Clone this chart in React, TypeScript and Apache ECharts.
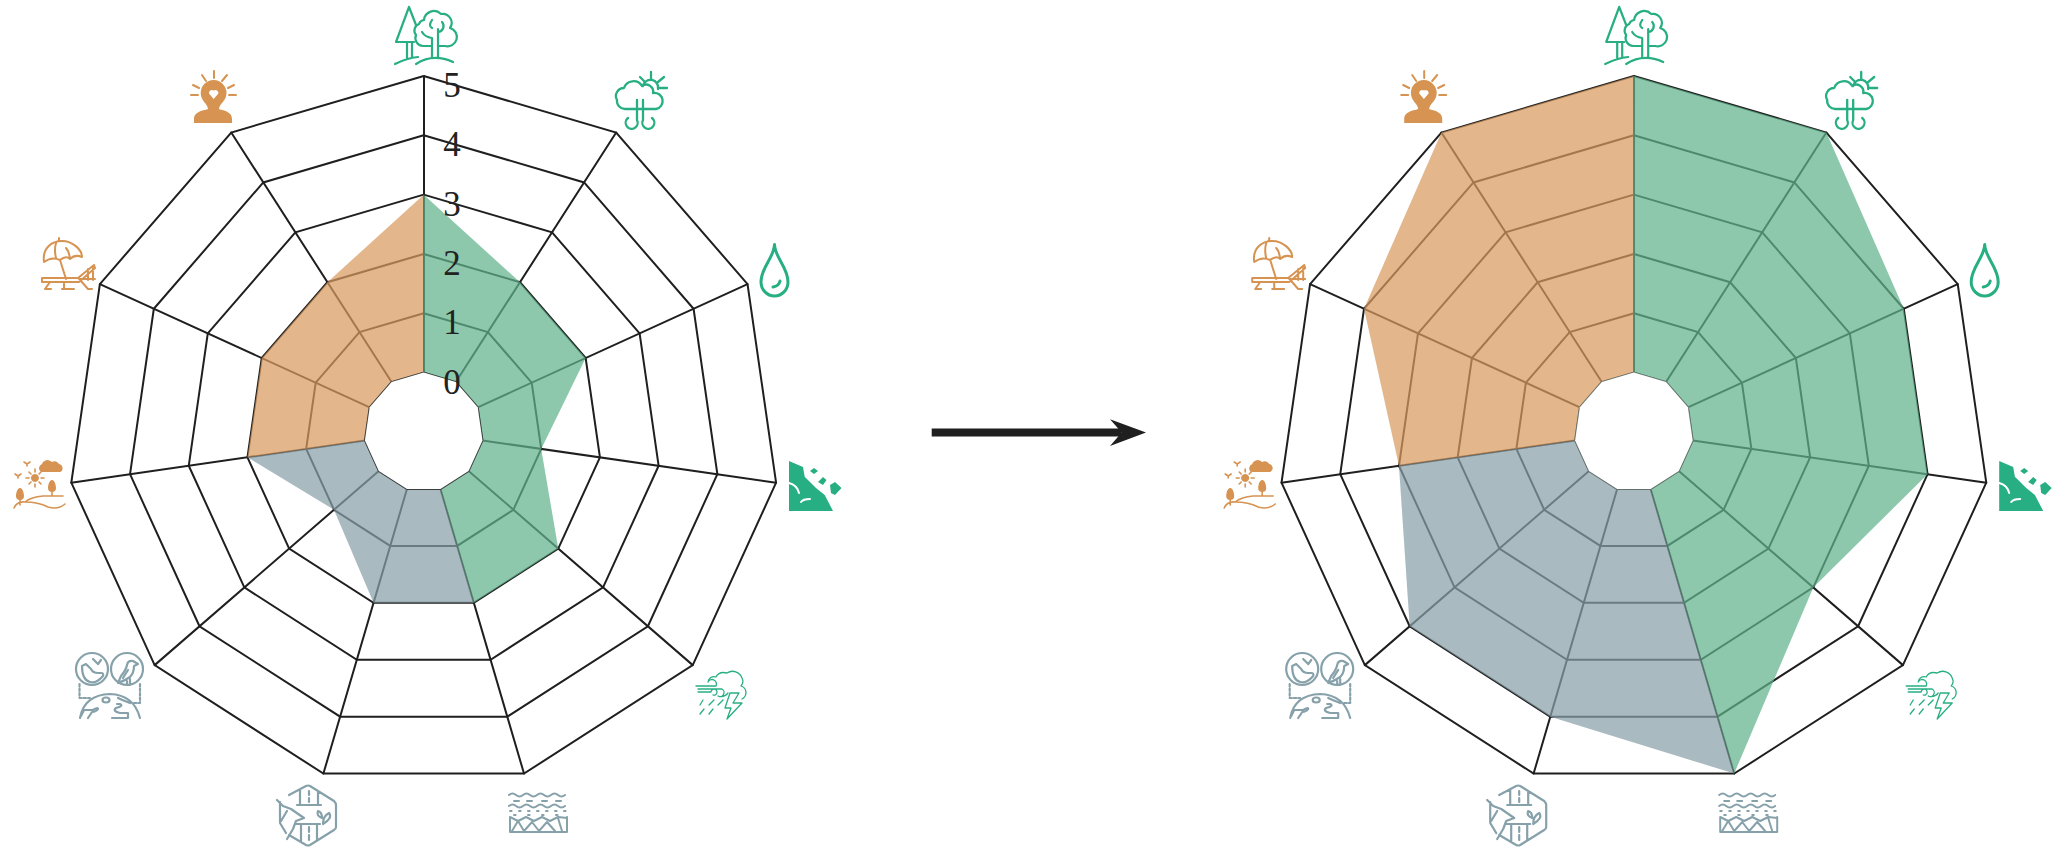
import React, { useEffect, useRef } from "react";
import * as echarts from "echarts";

const categories = ["Forest", "Climate", "Water", "Landslide", "Storm", "Soil", "Habitat", "Species", "Landscape", "Recreation", "Wellbeing"];
const tickMax = 5;
const beforeValues = [3, 2, 2, 1, 2, 2, 2, 1, 2, 2, 2];
const afterValues = [5, 5, 4, 4, 3, 5, 4, 4, 3, 4, 5];
const holeValues = [0, 0, 0, 0, 0, 0, 0, 0, 0, 0, 0];
const greenAxes = [0, 1, 2, 3, 4, 5];
const grayAxes = [5, 6, 7, 8];
const orangeAxes = [8, 9, 10, 0];

const GREEN = "#27ae82";
const ORANGE = "#d69352";
const GRAY = "#87a1aa";
const INK = "#1f1f1f";
const R0 = 59.4;
const R1 = 356;
const CY = 432;
const CX_LEFT = 423.7;
const CX_RIGHT = 1633.9;
const CENTER_VALUE = -R0 / ((R1 - R0) / tickMax);

// ECharts lays radar indicators out counter-clockwise; the chart reads clockwise.
function clockwise<T>(list: T[]): T[] {
  return [list[0], ...list.slice(1).reverse()];
}

function sector(values: number[], axes: number[]) {
  return clockwise(values.map((v, i) => (axes.includes(i) ? v : CENTER_VALUE)));
}

function wave(y: number) {
  let d = `M0 ${y}`;
  for (let x = 0; x < 56; x += 14) d += ` Q${x + 3.5} ${y - 3} ${x + 7} ${y} Q${x + 10.5} ${y + 3} ${x + 14} ${y}`;
  return d;
}
function dots(y: number, start: number, gap: number) {
  let d = "";
  for (let x = start; x < 58; x += gap) d += `M${x} ${y}h1.6 `;
  return d;
}

type Layer = { d: string; mode: "s" | "f" | "w"; lw?: number; dash?: number[] };
type Icon = { name: string; x: number; y: number; color: string; layers: Layer[] };

const icons: Icon[] = [
  {
    name: "tree", x: 395, y: 6, color: GREEN,
    layers: [{
      mode: "s", lw: 2.2,
      d: "M14 1 L1 36 H19 M14 1 L21 19 M12 36 V52 M17 36 V51 M29 14 A10 10 0 0 1 46 8 A9 9 0 0 1 55 22 A9 9 0 0 1 50 40 H43 M37 40 H28 A8 8 0 0 1 21 29 A7 7 0 0 1 24 18 A6 6 0 0 1 29 14 M37 32 V52 M43 23 V51 M43 26 A6 6 0 0 0 47 16 M37 32 Q30 31 27 26 M37 14 Q33 20 37 22 M0 58 Q12 52 23 51 M21 58 Q38 47 58 56",
    }],
  },
  {
    name: "cloud", x: 616, y: 72, color: GREEN,
    layers: [{
      mode: "s", lw: 2.3,
      d: "M13 37 H9 A8 8 0 0 1 1 28 A8 8 0 0 1 8 16 A10 10 0 0 1 26 14 A7 7 0 0 1 37 21 A8 8 0 0 1 40 37 H9 M27 14 A7 7 0 0 1 42 17 M35 0 V8 M24 5 L29 10 M48 5 L42 10 M44 16 H51 M21 28 V48 A6 6 0 1 1 12 46 M27 28 V48 A6 6 0 1 0 36 46",
    }],
  },
  {
    name: "drop", x: 759, y: 243, color: GREEN,
    layers: [{ mode: "s", lw: 3, d: "M15.5 1.5 C15 15 2 24 2 39 A13.5 14 0 0 0 29 39 C29 24 16 15 15.5 1.5 Z M14 44 Q20 43 21 38" }],
  },
  {
    name: "slide", x: 789, y: 461, color: GREEN,
    layers: [
      { mode: "f", d: "M0 0 L14 6 L15.7 15.7 L27 27 L35.7 34 L44 50 H0 Z M21 10 L25 7 L29 10 L25 13 Z M29 21 L34 16 L37.5 19 L34 24 Z M41 24 L46 21 L52.5 27 L46 34 L42 32 Z" },
      { mode: "w", lw: 2, d: "M0 22 Q8 24 10 32 M12 41 Q14 38 21 38" },
    ],
  },
  {
    name: "storm", x: 680, y: 655, color: GREEN,
    layers: [{
      mode: "s", lw: 1.3,
      d: "M28 27 A6 6 0 0 1 36 22 Q39 16 47 18 A10 10 0 0 1 62 23 A7 7 0 0 1 61 31 A7 7 0 0 1 62 44 M16 31 H36 A3.5 3.5 0 1 0 28 27 M18 34 H42 A3.5 3.5 0 0 1 38 41 Q44 43 48 38 M18 37 H31 A3 3 0 1 1 33 40 M50 38 H59 L53 48 H62 L47 64 L51 53 H45 Z M23 45 L20 50 M34 45 L29 50 M43 45 L38 50 M24 54 L20 59 M33 54 L29 59",
    }],
  },
  {
    name: "soil", x: 509, y: 792, color: GRAY,
    layers: [{
      mode: "s", lw: 2,
      d: `${wave(3)} M5 9H10 M18 9H23 M33 9H38 M47 9H52 ${wave(14)} ${dots(19, 1, 9)} ${dots(23, 5, 14)} M1 25 V40 H58 V25 M1 25 L9 29 L17 25 L25 29 L33 25 L41 29 L49 25 L58 26 M3 39 L9 29 L15 39 L23 30 L30 39 L38 30 L46 39 M49 26 L53 39`,
    }],
  },
  {
    name: "hex", x: 277, y: 785, color: GRAY,
    layers: [{
      mode: "s", lw: 2.2,
      d: "M12 10 L29 1 Q31 0 33 1 L57 16 Q59 18 59 20 V42 Q59 44 57 45 L33 60 Q31 61 29 60 L12 50 M23 5 V20 M41 7 V20 M20 20 H44 M32 6 V10 M32 13 V17 M18 39 H43 M24 39 V56 M40 39 V55 M32 42 V47 M32 50 V55 M0 15 L6 21 L14 24 L27 33 L19 36 L16 44 L10 54 M3 17 V38 L9 48 M4 36 L10 26 M45 33 Q45 27 41 26 Q39 31 45 33 Z M46 39 Q46 31 52 28 Q56 33 46 39",
    }],
  },
  {
    name: "birds", x: 60, y: 640, color: GRAY,
    layers: [
      { mode: "s", lw: 2.2, d: "M48 29 A16 16 0 1 1 16 29 A16 16 0 1 1 48 29 M83 29 A16 16 0 1 1 51 29 A16 16 0 1 1 83 29 M22 26 L26 24 L31 29 Q33 33 38 33 L41 33 Q44 33 43 36 Q36 44 30 42 Q22 40 22 26 M33 19 L38 24 M38 24 L41 20 M58 43 L61 36 Q66 30 67 25 Q68 20 73 21 L78 24 L74 26 Q74 33 70 37 Q64 41 58 43 M63 38 L68 30 M67 41 V45 M70 39 V45 M20 78 Q24 55 50 54 Q74 55 80 78 M21 76 L24 70 H33 Q38 67 38 69 Q36 72 32 72 L28 78 M58 58 Q62 60 70 63 M57 64 H60 Q64 66 56 68 Q52 71 60 73 H68 V78 H52 M42.5 60 A3.5 2.5 0 1 1 49.5 60 A3.5 2.5 0 1 1 42.5 60" },
      { mode: "s", lw: 2.2, dash: [2.5, 2], d: "M19.5 44 V58 H30 M80 44 V63 H74" },
    ],
  },
  {
    name: "land", x: 13, y: 461, color: ORANGE,
    layers: [
      { mode: "f", d: "M28 11 A4.5 4.5 0 0 1 29 3 A6 6 0 0 1 39 1 A5 5 0 0 1 46 3 A4.2 4.2 0 0 1 47 11 Z M22 13 A4 4 0 1 1 21.9 13 Z M7 27 C4 27 3 33 3 35 A4 4 0 0 0 11 35 C11 33 10 27 7 27 Z M39 19 C36 19 35 25 35 27 A4 4 0 0 0 43 27 C43 25 42 19 39 19 Z" },
      { mode: "s", lw: 1.6, d: "M22 8 V11 M22 23 V26 M13 17 H16 M28 17 H31 M16 11 L18 13 M28 11 L26 13 M16 23 L18 21 M28 23 L26 21 M11 1 L14 3 L17 1 M14 3 V5 M2 13 L5 15 L8 13 M5 15 V17 M7 34 V44 M39 26 V35 M1 47 Q4 40 12 41 Q18 36 30 35 H50 M12 41 Q25 41 35 46 Q45 49 52 43" },
    ],
  },
  {
    name: "beach", x: 42, y: 238, color: ORANGE,
    layers: [{
      mode: "s", lw: 2,
      d: "M2 24 C0 10 10 3 20 3 C31 3 40 12 40 19 Q33 16 28 21 Q24 17 18 22 Q10 18 2 24 Z M17 0 V3 M14 5 Q12 12 14 20 M24 10 Q27 13 28 21 M18 22 L24 41 M0 40 H36 L52 27 L53 30 L37 44 H0 Z M8 44 L3 51 H9 M22 44 V51 M20 51 H32 M39 43 L46 51 H50 M46 31 V42 M51 30 V42 M37 41 H53",
    }],
  },
  {
    name: "person", x: 191, y: 71, color: ORANGE,
    layers: [
      { mode: "f", d: "M22.7 9 A13 13 0 0 1 35.5 22 C35.5 30 28 33 28 38 C28 39 41 39 41 48 V52 H3 V48 C3 39 17 39 17 38 C17 33 9.7 30 9.7 22 A13 13 0 0 1 22.7 9 Z" },
      { mode: "s", lw: 2, d: "M23 0 V7 M11 4 L15 10 M36 4 L31 10 M2 14 L8 17 M43 14 L37 17 M0 24 H7 M45 24 H38" },
      { mode: "w", d: "M22.7 28 L18 22.5 A3 3 0 0 1 22.7 19.5 A3 3 0 0 1 27.4 22.5 Z" },
    ],
  },
];

icons.forEach((ic) =>
  ic.layers.forEach((l, i) => {
    echarts.graphic.registerShape(`${ic.name}${i}`, echarts.graphic.extendPath(l.d, {}) as any);
  })
);

function iconElements(dx: number) {
  const out: any[] = [];
  icons.forEach((ic) =>
    ic.layers.forEach((l, i) => {
      const white = l.mode === "w";
      const fillMode = l.mode === "f" || (white && !l.lw);
      out.push({
        type: `${ic.name}${i}`,
        x: ic.x + dx,
        y: ic.y,
        silent: true,
        z: 20,
        style: {
          fill: fillMode ? (white ? "#fff" : ic.color) : "none",
          stroke: fillMode ? "none" : white ? "#fff" : ic.color,
          lineWidth: l.lw ?? 0,
          lineCap: "round",
          lineJoin: "round",
          lineDash: l.dash,
        },
      });
    })
  );
  return out;
}

function radarAt(cx: number) {
  return {
    center: [cx, CY],
    radius: [R0, R1],
    startAngle: 90,
    splitNumber: tickMax,
    shape: "polygon" as const,
    axisName: { show: false },
    axisLine: { show: true, lineStyle: { color: INK, width: 2 } },
    axisTick: { show: false },
    axisLabel: { show: false },
    splitLine: { show: true, lineStyle: { color: INK, width: 2 } },
    splitArea: { show: false },
    indicator: clockwise(categories).map((name) => ({ name, min: 0, max: tickMax })),
  };
}

function fills(values: number[], radarIndex: number, holeLine: string) {
  return {
    type: "radar" as const,
    radarIndex,
    symbol: "none",
    silent: true,
    data: [
      { value: sector(values, greenAxes), lineStyle: { width: 0, opacity: 0 }, areaStyle: { color: "#61b18c", opacity: 0.72 } },
      { value: sector(values, grayAxes), lineStyle: { width: 0, opacity: 0 }, areaStyle: { color: "#899fa9", opacity: 0.72 } },
      { value: sector(values, orangeAxes), lineStyle: { width: 0, opacity: 0 }, areaStyle: { color: "#d89a5f", opacity: 0.72 } },
      { value: holeValues, lineStyle: { width: 1.8, color: holeLine }, areaStyle: { color: "#ffffff", opacity: 1 } },
    ],
  };
}

export default function App() {
  const ref = useRef<HTMLDivElement>(null);
  useEffect(() => {
    const chart = echarts.init(ref.current!, undefined, { renderer: "svg" });
    chart.setOption({
      animation: false,
      backgroundColor: "#ffffff",
      radar: [
        radarAt(CX_LEFT),
        radarAt(CX_RIGHT),
        {
          ...radarAt(CX_LEFT),
          z: 10,
          axisLine: { show: false },
          splitLine: { show: false },
          indicator: clockwise(categories).map((name, i) => ({
            name,
            min: 0,
            max: tickMax,
            axisLabel:
              i === 0
                ? { show: true, color: "#222", fontFamily: "Liberation Serif", fontSize: 35, margin: -19.5, align: "left", verticalAlign: "top", lineHeight: 19, showMinLabel: true, showMaxLabel: true }
                : { show: false },
          })),
        },
      ],
      series: [fills(beforeValues, 0, "#3a3d3c"), fills(afterValues, 1, "#66716c")],
      graphic: {
        elements: [
          ...iconElements(0),
          ...iconElements(CX_RIGHT - CX_LEFT),
          { type: "rect", shape: { x: 931.7, y: 428.4, width: 190, height: 8.2 }, style: { fill: INK }, silent: true },
          {
            type: "polygon",
            shape: { points: [[1110, 419.3], [1146, 432.6], [1110, 446], [1121.7, 432.6]] },
            style: { fill: INK },
            silent: true,
          },
        ],
      },
    });
    return () => chart.dispose();
  }, []);
  return <div ref={ref} style={{ position: "fixed", left: 0, top: 0, width: 2062, height: 848 }} />;
}
